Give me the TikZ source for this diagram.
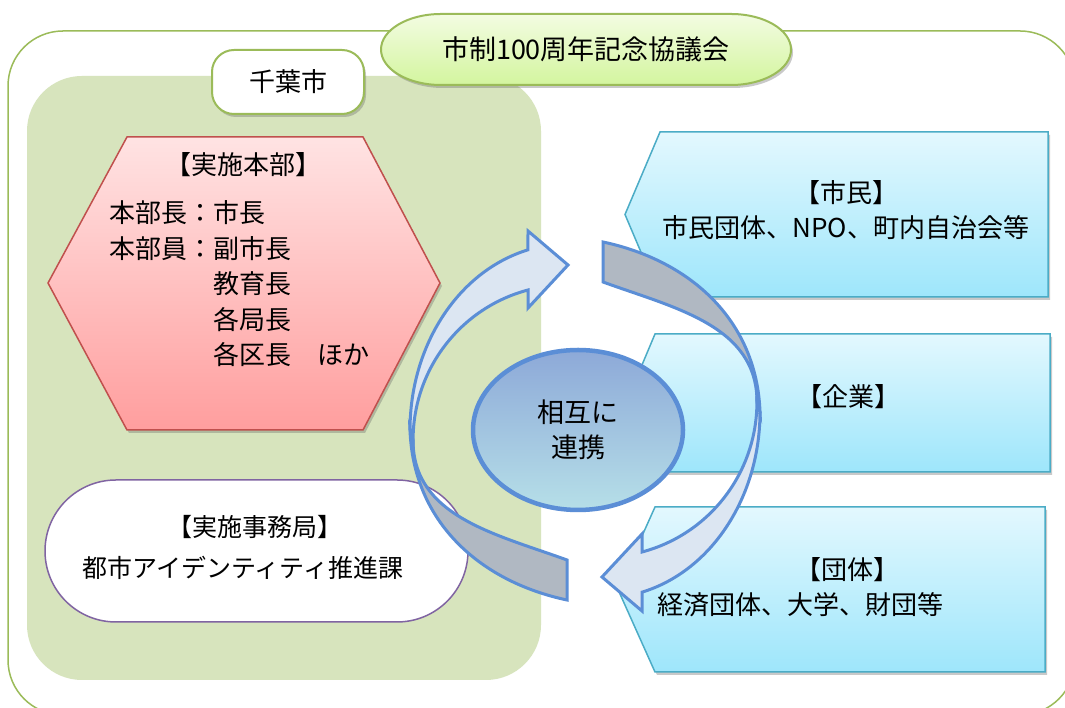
\documentclass[tikz,border=0pt]{standalone}
\usepackage{fontspec}
\setmainfont{Noto Sans CJK JP}
\usetikzlibrary{shadows,shapes,positioning,calc}

\definecolor{framegreen}{HTML}{9BBB59}
\definecolor{areagreen}{HTML}{D7E4BD}
\definecolor{pilltop}{HTML}{F3FCE2}
\definecolor{pillbot}{HTML}{D3F59E}
\definecolor{hextop}{HTML}{FFE3E3}
\definecolor{hexbot}{HTML}{FF9E9E}
\definecolor{hexline}{HTML}{C0504D}
\definecolor{officeline}{HTML}{8064A2}
\definecolor{tagtop}{HTML}{E3F8FE}
\definecolor{tagbot}{HTML}{9EE6FB}
\definecolor{tagline}{HTML}{4BACC6}
\definecolor{ringline}{HTML}{5B8ED6}
\definecolor{ringlight}{HTML}{DCE6F2}
\definecolor{ringgrey}{HTML}{B0B8C2}
\definecolor{linktop}{HTML}{8DA9D8}
\definecolor{linkbot}{HTML}{B6DFE8}

%% one turning arrow, light front and grey back
\newcommand\turnarrow{%
\path[arrowgrey] (410,278) to[out=-88,in=168] (567,108) -- (567,148)
  to[out=160,in=-90] (413,268) -- cycle;
\path[arrowlight] (410,278) arc[start angle=180,end angle=104.4,x radius=157,y radius=186]
  -- (528,477) -- (568,443) -- (528,400) -- (528,418)
  arc[start angle=104.7,end angle=180,x radius=154,y radius=155] -- cycle;
}

\begin{document}
\begin{tikzpicture}
[x=1pt, y=1pt,
every node/.style={inner sep=0pt},
softshadow/.style={drop shadow={shadow xshift=2pt,shadow yshift=-3pt,opacity=.35,fill=black!60}},
frame/.style={draw=framegreen, line width=1.5pt, fill=white, rounded corners=55pt},
pillstyle/.style={draw=framegreen, line width=2pt, top color=pilltop, bottom color=pillbot, softshadow},
citybox/.style={draw=framegreen, line width=2pt, fill=white, rounded corners=22pt, softshadow,
  minimum width=152pt, minimum height=64pt, font=\fontsize{26}{30}\selectfont},
hexstyle/.style={draw=hexline, line width=1.5pt, top color=hextop, bottom color=hexbot, softshadow},
officebox/.style={draw=officeline, line width=1.5pt, fill=white, rounded corners=71pt,
  minimum width=423pt, minimum height=142pt},
tagstyle/.style={draw=tagline, line width=1.5pt, top color=tagtop, bottom color=tagbot, softshadow},
tagtext/.style={align=center, font=\fontsize{26}{35}\selectfont},
arrowlight/.style={draw=ringline, line width=3pt, fill=ringlight},
arrowgrey/.style={draw=ringline, line width=3pt, fill=ringgrey},
linkellipse/.style={ellipse, draw=ringline, line width=4.5pt, top color=linktop, bottom color=linkbot,
  minimum width=210pt, minimum height=160pt, align=center, font=\fontsize{27}{35}\selectfont}]
%%
\useasboundingbox (0,0) rectangle (1065,708);
\clip (0,0) rectangle (1065,708);
%%
\draw[frame] (8,677) rectangle (1075,-7);
\fill[areagreen, rounded corners=55pt] (27,632) rectangle (541,28);
%%
\path[pillstyle] (441,694) -- (731,694) arc[start angle=90,end angle=-90,x radius=60,y radius=35.5]
  -- (441,623) arc[start angle=270,end angle=90,x radius=60,y radius=35.5] -- cycle;
\node[font=\fontsize{27}{30}\selectfont] (council) at (586,658.5) {市制100周年記念協議会};
%%
\node[citybox] (city) at (288,626) {千葉市};
%%
\path[hexstyle] (127,571) -- (363,571) -- (440,425) -- (363,278) -- (127,278) -- (48,425) -- cycle;
\node[font=\fontsize{26}{30}\selectfont] (hqtitle) at (243,543) {【実施本部】};
\node[anchor=west, align=left, font=\fontsize{26}{35.5}\selectfont] (hqlist) at (109,424)
  {本部長：市長\\本部員：副市長\\\hspace*{4em}教育長\\\hspace*{4em}各局長\\\hspace*{4em}各区長　ほか};
%%
\node[officebox] (office) at (256.5,157) {};
\node[font=\fontsize{25}{30}\selectfont] (officehead) at (255,181) {【実施事務局】};
\node[font=\fontsize{25}{30}\selectfont] (officename) at (243,140) {都市アイデンティティ推進課};
%%
\path[tagstyle] (660,576) -- (1048,576) -- (1048,411) -- (660,411) -- (625,493.5) -- cycle;
\path[tagstyle] (655,374) -- (1050,374) -- (1050,236) -- (655,236) -- (626,305) -- cycle;
\path[tagstyle] (655,201) -- (1045,201) -- (1045,36) -- (655,36) -- (618,118.5) -- cycle;
\node[tagtext] (citizen) at (846,498) {【市民】\\市民団体、NPO、町内自治会等};
\node[tagtext] (company) at (848,311) {【企業】};
\node[tagtext] (grouphead) at (847,138) {【団体】};
\node[tagtext, anchor=west] (grouplist) at (657,103) {経済団体、大学、財団等};
%%
\begin{scope}
\turnarrow
\end{scope}
\begin{scope}[rotate around={180:(585,287)}]
\turnarrow
\end{scope}
%%
\node[linkellipse] (link) at (578,278) {相互に\\連携};
\end{tikzpicture}
\end{document}
